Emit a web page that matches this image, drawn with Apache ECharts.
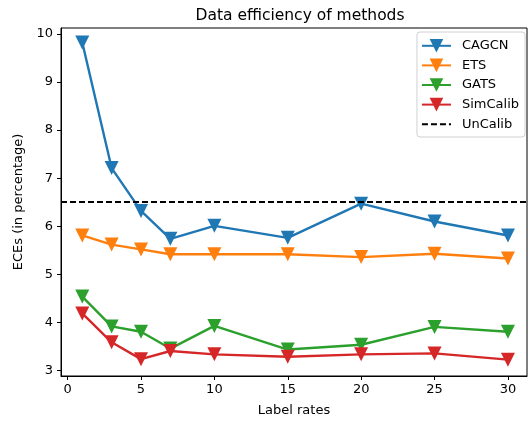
<!DOCTYPE html>
<html>
<head>
<meta charset="utf-8">
<script src="https://cdn.jsdelivr.net/npm/echarts@6/dist/echarts.min.js"></script>
<style>html,body{margin:0;padding:0;background:#fff}#c{width:528px;height:422px}</style>
</head>
<body>
<div id="c"></div>
<script>
const labelRates = [1, 3, 5, 7, 10, 15, 20, 25, 30];
const cagcn    = [9.82, 7.21, 6.32, 5.74, 6.01, 5.76, 6.47, 6.10, 5.81];
const ets      = [5.81, 5.62, 5.52, 5.42, 5.42, 5.42, 5.36, 5.43, 5.33];
const gats     = [4.54, 3.92, 3.81, 3.46, 3.93, 3.44, 3.54, 3.91, 3.81];
const simcalib = [4.19, 3.59, 3.24, 3.41, 3.34, 3.29, 3.34, 3.36, 3.23];
const uncalib  = 6.5;
const xTicks = [0, 5, 10, 15, 20, 25, 30];
const yTicks = [3, 4, 5, 6, 7, 8, 9, 10];

const names = ['CAGCN', 'ETS', 'GATS', 'SimCalib'];
const colors = ['#1f77b4', '#ff7f0e', '#2ca02c', '#d62728'];
const values = [cagcn, ets, gats, simcalib];
const font = 'DejaVu Sans';

const series = values.map((v, i) => ({
  name: names[i],
  type: 'line',
  data: labelRates.map((x, j) => [x, v[j]]),
  symbol: 'triangle',
  symbolRotate: 180,
  symbolSize: 14,
  showAllSymbol: true,
  lineStyle: { color: colors[i], width: 2.4 },
  itemStyle: { color: colors[i] },
  emphasis: { disabled: true },
  animation: false,
  z: 2 + i
}));
series.push({
  name: 'UnCalib',
  type: 'line',
  data: [],
  symbol: 'none',
  lineStyle: { color: '#000', width: 2, type: [6, 3] },
  itemStyle: { color: 'rgba(0,0,0,0)' },
  markLine: {
    silent: true,
    symbol: 'none',
    label: { show: false },
    lineStyle: { color: '#000', width: 1.9, type: [6, 3] },
    data: [{ yAxis: uncalib }],
    animation: false,
    z: 10
  },
  animation: false
});

const chart = echarts.init(document.getElementById('c'), null, { renderer: 'canvas' });
chart.setOption({
  animation: false,
  backgroundColor: '#fff',
  title: {
    text: 'Data efficiency of methods',
    left: 295, top: 3, textAlign: 'center',
    textStyle: { fontFamily: font, fontSize: 15.5, fontWeight: 'normal', color: '#000' }
  },
  grid: {
    left: 61, right: 1, top: 28, bottom: 44,
    show: true, borderColor: '#000', borderWidth: 1, backgroundColor: 'rgba(0,0,0,0)'
  },
  legend: {
    orient: 'vertical',
    right: 3, top: 32,
    padding: [7, 6, 6, 4],
    itemWidth: 29, itemHeight: 17, itemGap: 6,
    backgroundColor: 'rgba(255,255,255,0.8)',
    borderColor: '#d0d0d0', borderWidth: 1, borderRadius: 3,
    textStyle: { fontFamily: font, fontSize: 13, color: '#000', padding: [0, 0, 0, 6] },
    data: ['CAGCN', 'ETS', 'GATS', 'SimCalib', 'UnCalib']
  },
  xAxis: {
    type: 'value', min: -0.45, max: 31.3,
    name: 'Label rates', nameLocation: 'middle', nameGap: 28,
    nameTextStyle: { fontFamily: font, fontSize: 13, color: '#000' },
    axisLine: { show: true, onZero: false, lineStyle: { color: '#000', width: 1 } },
    axisTick: { show: true, length: 4, customValues: xTicks, lineStyle: { color: '#000' } },
    axisLabel: { customValues: xTicks, margin: 7, fontFamily: font, fontSize: 13, color: '#000' },
    splitLine: { show: false }
  },
  yAxis: {
    type: 'value', min: 2.89, max: 10.12,
    name: 'ECEs (in percentage)', nameLocation: 'middle', nameGap: 33, nameRotate: 90,
    nameTextStyle: { fontFamily: font, fontSize: 13, color: '#000' },
    axisLine: { show: true, onZero: false, lineStyle: { color: '#000', width: 1 } },
    axisTick: { show: true, length: 4, customValues: yTicks, lineStyle: { color: '#000' } },
    axisLabel: { customValues: yTicks, margin: 8, fontFamily: font, fontSize: 13, color: '#000' },
    splitLine: { show: false }
  },
  series: series
});
</script>
</body>
</html>
